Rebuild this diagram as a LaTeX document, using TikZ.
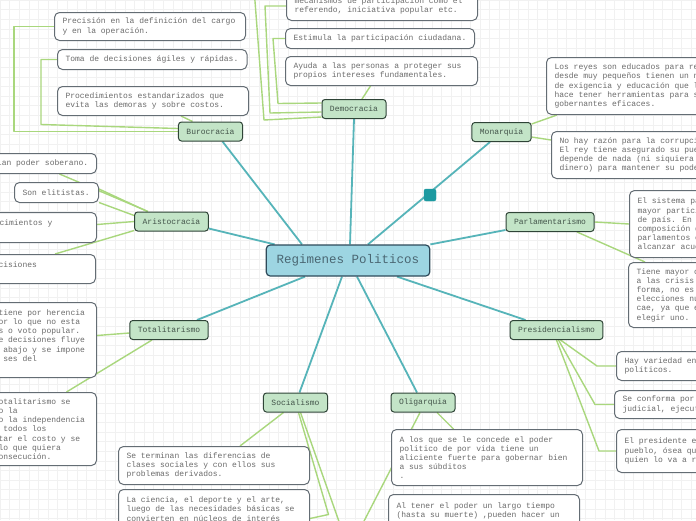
\documentclass[tikz,border=0pt]{standalone}
\usepackage{fontspec}
\setmainfont{Liberation Mono}[WordSpace={1,0,0}]
\usetikzlibrary{backgrounds}

\definecolor{hubfill}{HTML}{9DD5E2}
\definecolor{hubdraw}{HTML}{2E4A5A}
\definecolor{hubtext}{HTML}{4A6672}
\definecolor{topicfill}{HTML}{C3E4C7}
\definecolor{topicdraw}{HTML}{2F4437}
\definecolor{topictext}{HTML}{43544A}
\definecolor{leafdraw}{HTML}{646D74}
\definecolor{leaftext}{HTML}{6B6B6B}
\definecolor{trunkc}{HTML}{56B4B9}
\definecolor{twigc}{HTML}{A9D77D}
\definecolor{dotfill}{HTML}{1C9AA1}
\definecolor{gridc}{HTML}{F1F1F1}

\newcommand\leaffont{\fontsize{8}{9.2}\selectfont}

\begin{document}
\begin{tikzpicture}[x=1pt, y=-1pt,
  hub/.style={draw=hubdraw, line width=1.2pt, fill=hubfill, rounded corners=4pt, text=hubtext,
    font=\fontsize{12.5}{15}\selectfont, minimum height=31pt, inner xsep=10.5pt},
  topic/.style={draw=topicdraw, line width=1pt, fill=topicfill, rounded corners=3pt, text=topictext,
    font=\leaffont, minimum height=19pt, inner xsep=8pt, inner ysep=0pt},
  leaf/.style={draw=leafdraw, line width=1pt, fill=white, rounded corners=5pt, text=leaftext,
    font=\leaffont, align=flush left, inner xsep=8pt, inner ysep=0pt, anchor=north west},
  trunk/.style={draw=trunkc, line width=1.8pt},
  twig/.style={draw=twigc, line width=1.4pt, line join=round}
]
  \useasboundingbox (0,0) rectangle (696,520);
  \clip (0,0) rectangle (696,520);

  % center and topics
  \node[hub] (reg) at (348,260.5) {Regimenes Politicos};

  \node[topic] (bur) at (210.5,131.5) {Burocracia};
  \node[topic] (dem) at (354,109)     {Democracia};
  \node[topic] (mon) at (501.5,132)   {Monarquia};
  \node[topic] (ari) at (171.5,221.5) {Aristocracia};
  \node[topic] (par) at (550,222)     {Parlamentarismo};
  \node[topic] (tot) at (169,330)     {Totalitarismo};
  \node[topic] (pre) at (556.5,330)   {Presidencialismo};
  \node[topic] (soc) at (295.5,402.5) {Socialismo};
  \node[topic] (oli) at (423,402.5)   {Oligarquia};

  \node[draw=dotfill, fill=dotfill, rounded corners=2pt, minimum size=12pt, inner sep=0pt] (dot) at (430,195) {};

  % Burocracia
  \node[leaf, text width=175, minimum height=28] (bur1) at (54,12)
      {Precisión en la definición del cargo\\y en la operación.};
  \node[leaf, text width=173.5, minimum height=20] (bur2) at (57,49)
      {Toma de decisiones ágiles y rápidas.};
  \node[leaf, text width=175, minimum height=29] (bur3) at (57,86)
      {Procedimientos estandarizados que\\evita las demoras y sobre costos.};

  % Democracia
  \node[leaf, text width=175, minimum height=29] (dem1) at (286,-9)
      {mecanismos de participación como el\\referendo, iniciativa popular etc.};
  \node[leaf, text width=173, minimum height=20] (dem2) at (285,28)
      {Estimula la participación ciudadana.};
  \node[leaf, text width=176, minimum height=29] (dem3) at (285,56)
      {Ayuda a las personas a proteger sus\\propios intereses fundamentales.};

  % Monarquia
  \node[leaf, text width=184, minimum height=57] (mon1) at (546,57)
      {Los reyes son educados para re\\desde muy pequeños tienen un n\\de exigencia y educación que l\\hace tener herramientas para s\\gobernantes eficaces.};
  \node[leaf, text width=184, minimum height=47] (mon2) at (551,131)
      {No hay razón para la corrupci\\El rey tiene asegurado su pue\\depende de nada (ni siquiera\\dinero) para mantener su pode};

  % Aristocracia
  \node[leaf, anchor=north east, text width=91.5, minimum height=20] (ari1) at (97,153)
      {ian poder soberano.};
  \node[leaf, text width=68, minimum height=20] (ari2) at (14,182)
      {Son elitistas.};
  \node[leaf, anchor=north east, text width=89, minimum height=30] (ari3) at (97,212)
      {cimientos y\\~};
  \node[leaf, anchor=north east, text width=89, minimum height=29] (ari4) at (96,254)
      {cisiones\\~};

  % Totalitarismo
  \node[leaf, anchor=north east, text width=90, minimum height=75] (tot1) at (97,302)
      {tiene por herencia\\or lo que no esta\\s o voto popular.\\e decisiones fluye\\~abajo y se impone\\~ses del\\~};
  \node[leaf, anchor=north east, text width=90, minimum height=73] (tot2) at (97,392)
      {otalitarismo se\\o la\\o la independencia\\~todos los\\tar el costo y se\\lo que quiera\\onsecución.};

  % Parlamentarismo
  \node[leaf, text width=104, minimum height=67] (par1) at (629,190)
      {El sistema pa\\mayor partici\\de país. En m\\composición d\\parlamentos e\\alcanzar acue};
  \node[leaf, text width=104, minimum height=65] (par2) at (628,262)
      {Tiene mayor c\\a las crisis\\forma, no es\\elecciones nu\\cae, ya que e\\elegir uno.};

  % Presidencialismo
  \node[leaf, text width=104, minimum height=29] (pre1) at (616,351)
      {Hay variedad en\\políticos.};
  \node[leaf, text width=104, minimum height=28] (pre2) at (614,390)
      {Se conforma por\\judicial, ejecut};
  \node[leaf, text width=104, minimum height=43] (pre3) at (616,429)
      {El presidente e\\pueblo, ósea qu\\quien lo va a r};

  % Socialismo
  \node[leaf, text width=175, minimum height=38] (soc1) at (118,446)
      {Se terminan las diferencias de\\clases sociales y con ellos sus\\problemas derivados.};
  \node[leaf, text width=175, minimum height=48] (soc2) at (118,489)
      {La ciencia, el deporte y el arte,\\luego de las necesidades básicas se\\convierten en núcleos de interés\\~};

  % Oligarquia
  \node[leaf, text width=175, minimum height=56] (oli1) at (391,429)
      {A los que se le concede el poder\\politico de por vida tiene un\\aliciente fuerte para gobernar bien\\a sus súbditos\\.};
  \node[leaf, text width=175, minimum height=40] (oli2) at (388,494)
      {Al tener el poder un largo tiempo\\(hasta su muerte) ,pueden hacer un\\~};

  \coordinate (offtop) at (254,-12);
  \coordinate (offsoc) at (342,530);
  \coordinate (offoli) at (362,525);

  \begin{scope}[on background layer]
    \clip (0,0) rectangle (696,520);
    \fill[white] (0,0) rectangle (696,520);
    \draw[gridc, step=9.6pt] (0,0) grid (696,520);

    % trunk lines
    \draw[trunk] ([xshift=-46pt]reg.north) -- ([xshift=12pt]bur.south);
    \draw[trunk] ([xshift=2pt]reg.north) -- (dem.south);
    \draw[trunk] ([xshift=20pt]reg.north) -- ([xshift=-11.5pt]mon.south);
    \draw[trunk] ([xshift=9pt]reg.north west) -- ([yshift=-7pt]ari.east);
    \draw[trunk] (reg.north east) -- ([yshift=2pt]par.south west);
    \draw[trunk] ([xshift=-43pt]reg.south) -- ([xshift=28pt]tot.north);
    \draw[trunk] ([xshift=49pt]reg.south) -- ([xshift=-31pt]pre.north);
    \draw[trunk] ([xshift=-6pt]reg.south) -- ([xshift=4pt]soc.north);
    \draw[trunk] ([xshift=9pt]reg.south) -- ([xshift=-6pt]oli.north);

    % Burocracia
    \draw[twig] (bur1.west) -- ++(-40,0) |- (bur.west);
    \draw[twig] (bur2.west) -- ++(-16,0) -- ++(0,65) -- ([yshift=3pt]bur.west);
    \draw[twig] ([xshift=28pt]bur3.south) -- ([xshift=-18pt]bur.north);

    % Democracia
    \draw[twig] (offtop) -- ++(10,132) -- ([yshift=-8pt]dem.west);
    \draw[twig] (dem1.west) -- ++(-21,0) -- ++(5,107) -- ([yshift=-3pt]dem.west);
    \draw[twig] (dem2.west) -- ++(-12,0) -- ++(5,65) -- ([yshift=6pt]dem.west);
    \draw[twig] ([xshift=-11pt]dem3.south) -- ([xshift=8pt]dem.north);

    % Monarquia
    \draw[twig] ([yshift=-2pt]mon.north east) -- ([xshift=11pt]mon1.south west);
    \draw[twig] ([yshift=-5pt]mon.east) -- ([yshift=-9pt]mon2.north west);

    % Aristocracia
    \draw[twig] ([xshift=16.75pt]ari1.south) -- ([xshift=-23.5pt]ari.north);
    \draw[twig] ([yshift=3.5pt]ari2.east) -- ([xshift=-24pt]ari.north);
    \draw[twig] ([yshift=-10pt]ari2.east) -- ([yshift=6pt]ari.west);
    \draw[twig] ([yshift=3pt]ari3.east) -- (ari.west);
    \draw[twig] ([xshift=12pt]ari4.north) -- ([yshift=-9pt]ari.west);

    % Totalitarismo
    \draw[twig] ([yshift=4.5pt]tot1.east) -- ([yshift=-3pt]tot.west);
    \draw[twig] ([xshift=23pt]tot2.north) -- ([xshift=-17pt]tot.south);

    % Parlamentarismo
    \draw[twig] (par.east) -- (par1.west);
    \draw[twig] ([xshift=27pt]par.south) -- ([xshift=17pt]par2.north west);

    % Presidencialismo
    \draw[twig] ([xshift=4pt]pre.south) -- ([xshift=-19pt]pre1.west) -- (pre1.west);
    \draw[twig] ([xshift=2pt]pre.south) -- ([xshift=-19pt]pre2.west) -- (pre2.west);
    \draw[twig] (pre.south) -- ([xshift=-17pt]pre3.west) -- (pre3.west);

    % Socialismo
    \draw[twig] ([xshift=-12pt]soc.south) -- ([xshift=26pt]soc1.north);
    \draw[twig] ([xshift=3pt]soc.south) -- ++(30,102) -- ([yshift=-5pt]soc2.east);
    \draw[twig] ([xshift=5pt]soc.south) -- (offsoc);

    % Oligarquia
    \draw[twig] ([xshift=-3pt]oli.south) -- (offoli);
    \draw[twig] ([xshift=14pt]oli.south) -- ([xshift=-33.5pt]oli1.north);
  \end{scope}
\end{tikzpicture}
\end{document}
